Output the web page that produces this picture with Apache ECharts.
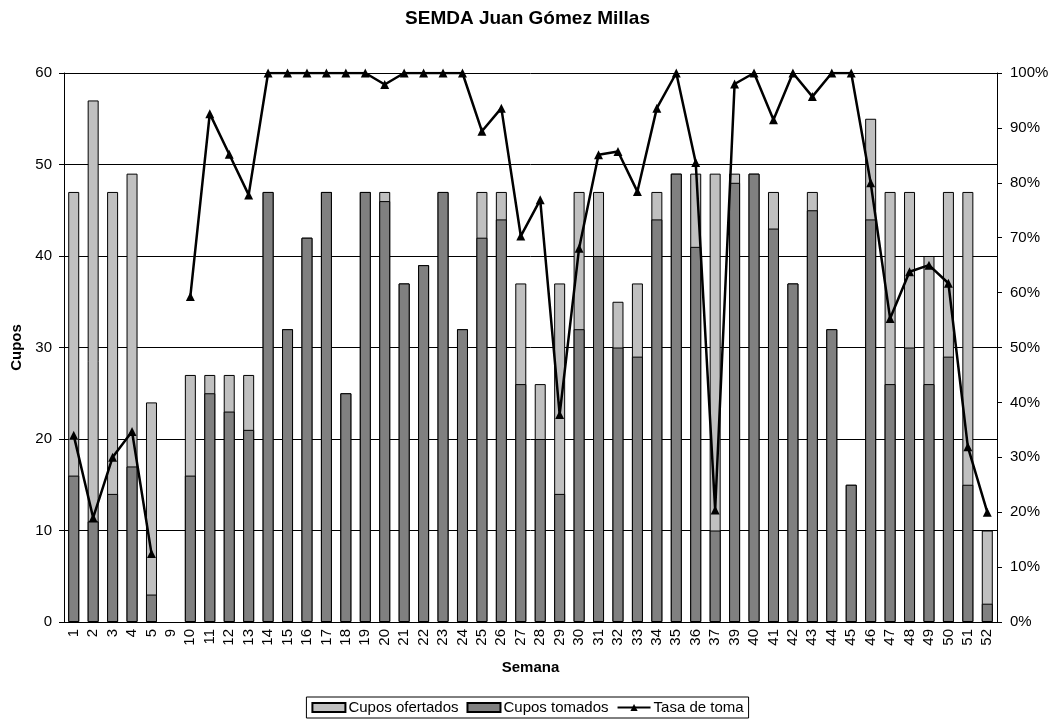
<!DOCTYPE html>
<html>
<head>
<meta charset="utf-8">
<script src="https://cdn.jsdelivr.net/npm/echarts@6/dist/echarts.min.js"></script>
<style>html,body{margin:0;padding:0;background:#fff;}#c{width:1055px;height:719px;}</style>
</head>
<body>
<div id="c"></div>
<script>
var weeks = ['1','2','3','4','5','9','10','11','12','13','14','15','16','17','18','19','20','21','22','23','24','25','26','27','28','29','30','31','32','33','34','35','36','37','39','40','41','42','43','44','45','46','47','48','49','50','51','52'];
var offered = [47,57,47,49,24,null,27,27,27,27,47,32,42,47,25,47,47,37,39,47,32,47,47,37,26,37,47,47,35,37,47,49,49,49,49,49,47,37,47,32,15,55,47,47,40,47,47,10];
var taken = [16,11,14,17,3,null,16,25,23,21,47,32,42,47,25,47,46,37,39,47,32,42,44,26,20,14,32,40,30,29,44,49,41,10,48,49,43,37,45,32,15,44,26,30,26,29,15,2];
var rate = [34,19,30,34.7,12.5,null,59.3,92.6,85.2,77.8,100,100,100,100,100,100,97.9,100,100,100,100,89.4,93.6,70.3,76.9,37.8,68.1,85.1,85.7,78.4,93.6,100,83.7,20.4,98,100,91.5,100,95.7,100,100,80,55.3,63.8,65,61.7,31.9,20];

var chart = echarts.init(document.getElementById('c'));
var font = 'Liberation Sans, Arial, sans-serif';
chart.setOption({
  animation: false,
  textStyle: {fontFamily: font},
  title: {text: 'SEMDA Juan Gómez Millas', left: 'center', top: 4,
    textStyle: {fontSize: 19, fontWeight: 'bold', color: '#000', fontFamily: font}},
  legend: {
    bottom: 1, left: 'center',
    data: [
      {name: 'Cupos ofertados', icon: 'rect'},
      {name: 'Cupos tomados', icon: 'rect'},
      {name: 'Tasa de toma'}
    ],
    borderColor: '#000', borderWidth: 1, padding: [3,5], itemGap: 8,
    itemWidth: 33, itemHeight: 9,
    textStyle: {fontSize: 15, color: '#000', fontFamily: font, padding: [0,0,0,-2]}
  },
  grid: {left: 64, right: 58, top: 73, bottom: 97},
  xAxis: {
    type: 'category', data: weeks, name: 'Semana', nameLocation: 'middle', nameGap: 38,
    nameTextStyle: {fontSize: 15, fontWeight: 'bold', color: '#000'},
    axisLine: {lineStyle: {color: '#000'}},
    axisTick: {alignWithLabel: false, length: 5, lineStyle: {color: '#000'}},
    axisLabel: {rotate: 90, fontSize: 15, color: '#000', interval: 0, margin: 7}
  },
  yAxis: [{
    type: 'value', min: 0, max: 60, interval: 10, name: 'Cupos', nameLocation: 'middle', nameGap: 39,
    nameTextStyle: {fontSize: 15, fontWeight: 'bold', color: '#000'},
    axisLine: {show: true, lineStyle: {color: '#000'}},
    axisTick: {show: true, length: 5, lineStyle: {color: '#000'}},
    axisLabel: {fontSize: 15, color: '#000', margin: 12},
    splitLine: {lineStyle: {color: '#000', width: 1}}
  }, {
    type: 'value', min: 0, max: 100, interval: 10,
    axisLine: {show: true, lineStyle: {color: '#000'}},
    axisTick: {show: true, length: 5, lineStyle: {color: '#000'}},
    axisLabel: {fontSize: 15, color: '#000', formatter: '{value}%', margin: 13},
    splitLine: {show: false}
  }],
  series: [{
    name: 'Cupos ofertados', type: 'bar', data: offered, barWidth: 11, barGap: '-100%',
    itemStyle: {color: '#c0c0c0', borderColor: '#000', borderWidth: 1}
  }, {
    name: 'Cupos tomados', type: 'bar', data: taken, barWidth: 11, barGap: '-100%',
    itemStyle: {color: '#808080', borderColor: '#000', borderWidth: 1}
  }, {
    name: 'Tasa de toma', type: 'line', yAxisIndex: 1, data: rate, connectNulls: false,
    symbol: 'triangle', symbolSize: 9, showAllSymbol: true,
    lineStyle: {color: '#000', width: 2.5},
    itemStyle: {color: '#000'}
  }]
});
</script>
</body>
</html>
